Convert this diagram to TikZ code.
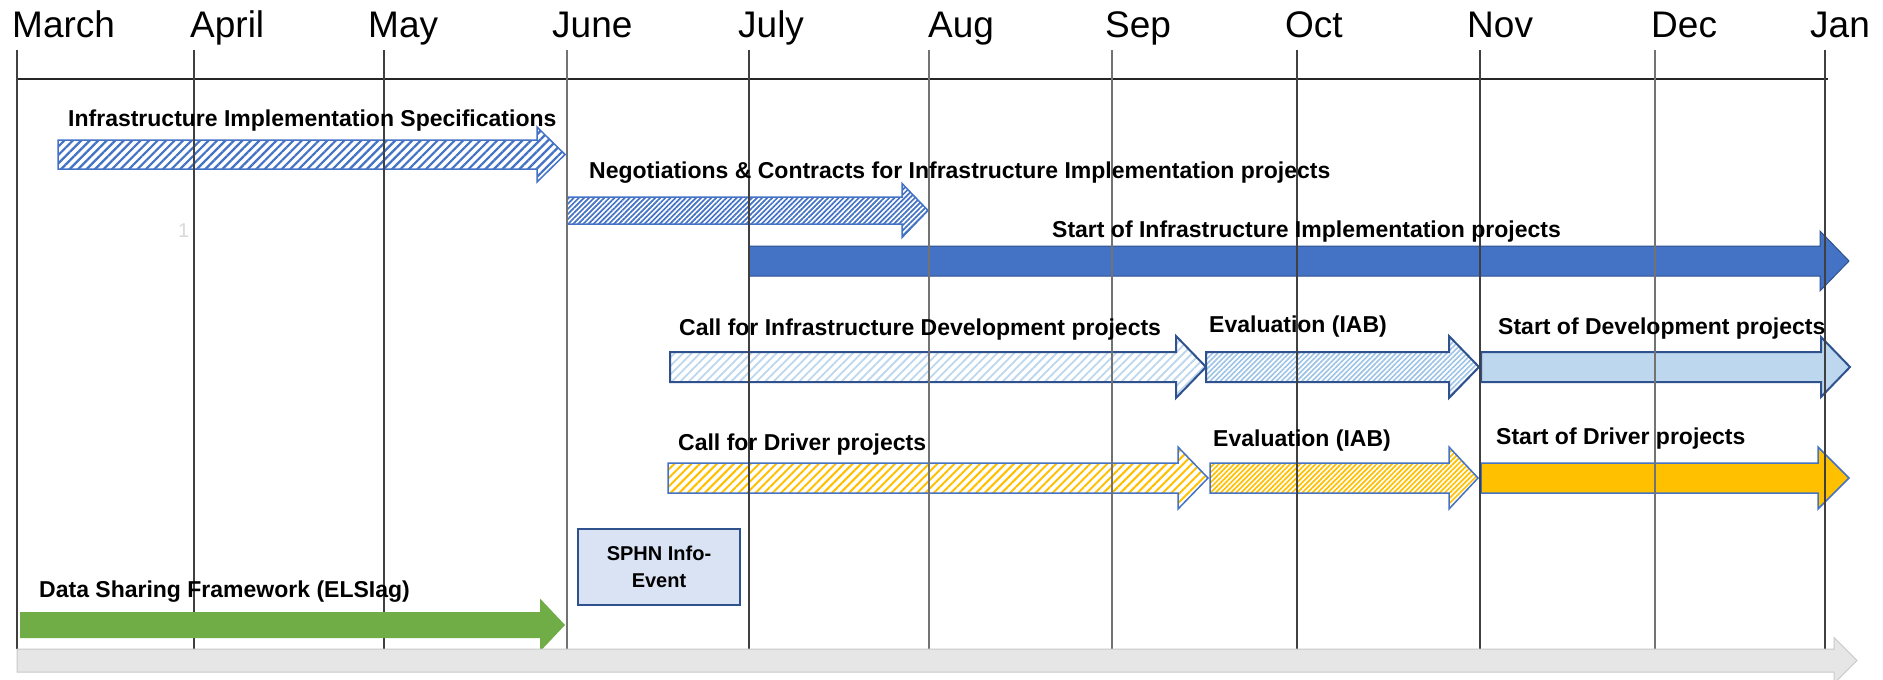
\documentclass[tikz,border=0pt]{standalone}
\usepackage{fontspec}
\setmainfont{Liberation Sans}
\usetikzlibrary{patterns.meta}
\definecolor{ibl}{HTML}{4472C4}
\definecolor{dkbl}{HTML}{2F528F}
\definecolor{ltbl}{HTML}{BDD7EE}
\definecolor{mdbl}{HTML}{9DC3E6}
\definecolor{yel}{HTML}{FFC000}
\definecolor{grn}{HTML}{70AD47}
\definecolor{barg}{HTML}{E7E6E6}
\definecolor{barb}{HTML}{C9C9C9}
\definecolor{sphn}{HTML}{DAE3F3}
\newcommand{\tlarrow}[7]{\path[#1] ({#2},{#5-#6}) -- ({#3},{#5-#6}) -- ({#3},{#5-#7}) -- ({#4},{#5}) -- ({#3},{#5+#7}) -- ({#3},{#5+#6}) -- ({#2},{#5+#6}) -- cycle;}
\tikzset{
  month/.style={anchor=base west, inner sep=0pt, font=\fontsize{37}{42}\selectfont},
  lbl/.style={anchor=base west, inner sep=0pt, font=\bfseries\fontsize{23}{27}\selectfont},
  grid/.style={draw=black!75, line width=1.3pt},
  gridg/.style={draw=black!55, line width=1.8pt},
  hatchA/.style={fill=white, pattern={Lines[angle=45,distance=6pt,line width=2.2pt]}, pattern color=ibl, draw=ibl, line width=1.5pt},
  hatchB/.style={fill=white, pattern={Lines[angle=45,distance=3.6pt,line width=1.7pt]}, pattern color=ibl, draw=ibl, line width=1.5pt},
  hatchC/.style={fill=white, pattern={Lines[angle=45,distance=6pt,line width=1.8pt]}, pattern color=ltbl, draw=dkbl, line width=2pt},
  hatchD/.style={fill=white, pattern={Lines[angle=45,distance=3.6pt,line width=1.6pt]}, pattern color=mdbl, draw=dkbl, line width=2pt},
  hatchE/.style={fill=white, pattern={Lines[angle=45,distance=6pt,line width=2pt]}, pattern color=yel, draw=ibl, line width=1.5pt},
  hatchF/.style={fill=white, pattern={Lines[angle=45,distance=3.6pt,line width=1.7pt]}, pattern color=yel, draw=ibl, line width=1.5pt},
}
\begin{document}
\begin{tikzpicture}[x=1pt,y=-1pt]
\useasboundingbox (0,0) rectangle (1883,680);
\fill[white] (0,0) rectangle (1883,680);
% hatched and filled arrows
\tlarrow{hatchA}{58}{537}{565}{154.5}{14.5}{27.5}
\tlarrow{hatchB}{567}{902}{928}{210.5}{13.5}{27}
\tlarrow{fill=ibl, draw=dkbl, line width=1pt}{749}{1820}{1849}{261}{15}{30}
\tlarrow{hatchC}{670}{1176}{1206}{367}{15}{31}
\tlarrow{hatchD}{1206}{1449}{1479}{367}{15}{31}
\tlarrow{fill=ltbl, draw=dkbl, line width=2pt}{1481}{1821}{1850}{367}{15}{30}
\tlarrow{hatchE}{668}{1178}{1208}{478}{15}{31}
\tlarrow{hatchF}{1210}{1449}{1478}{478}{15}{31}
\tlarrow{fill=yel, draw=ibl, line width=1.5pt}{1481}{1818}{1849}{478}{15}{31}
% grid
\coordinate (top) at (17,79);
\coordinate (topend) at (1828,79);
\draw[line width=1.3pt, black!85] (top) -- (topend);
\foreach \x in {17,194,384,749,1297,1480,1825} \draw[grid] (\x,50) -- (\x,649);
\foreach \x in {567,929,1112,1655} \draw[gridg] (\x,50) -- (\x,649);
% green arrow and bottom bar
\tlarrow{fill=grn}{20}{540}{565}{625}{13}{26.5}
\tlarrow{fill=barg, draw=barb, line width=1pt}{17}{1834}{1857}{660.5}{11.5}{23}
% SPHN box
\node[draw=dkbl, line width=2pt, fill=sphn, minimum width=162pt, minimum height=76pt, inner sep=0pt,
      align=center, font=\bfseries\fontsize{20}{27}\selectfont] (sphnbox) at (659,567) {SPHN Info-\\Event};
% month labels
\node[month] (mar) at (12,37) {March};
\node[month] (apr) at (190,37) {April};
\node[month] (may) at (368,37) {May};
\node[month] (jun) at (552,37) {June};
\node[month] (jul) at (738,37) {July};
\node[month] (aug) at (928,37) {Aug};
\node[month] (sep) at (1105,37) {Sep};
\node[month] (oct) at (1285,37) {Oct};
\node[month] (nov) at (1467,37) {Nov};
\node[month] (dec) at (1651,37) {Dec};
\node[month] (jan) at (1810,37) {Jan};
% task labels
\node[lbl] (l1) at (68,126) {Infrastructure Implementation Specifications};
\node[lbl] (l2) at (589,178) {Negotiations \& Contracts for Infrastructure Implementation projects};
\node[lbl] (l3) at (1052,237) {Start of Infrastructure Implementation projects};
\node[lbl] (l4) at (679,335) {Call for Infrastructure Development projects};
\node[lbl] (l5) at (1209,332) {Evaluation (IAB)};
\node[lbl] (l6) at (1498,334) {Start of Development projects};
\node[lbl] (l7) at (678,450) {Call for Driver projects};
\node[lbl] (l8) at (1213,446) {Evaluation (IAB)};
\node[lbl] (l9) at (1496,444) {Start of Driver projects};
\node[lbl] (l10) at (39,597) {Data Sharing Framework (ELSIag)};
\node[anchor=base west, inner sep=0pt, text=black!15, font=\fontsize{20}{24}\selectfont] (one) at (178,237) {1};
\end{tikzpicture}
\end{document}
